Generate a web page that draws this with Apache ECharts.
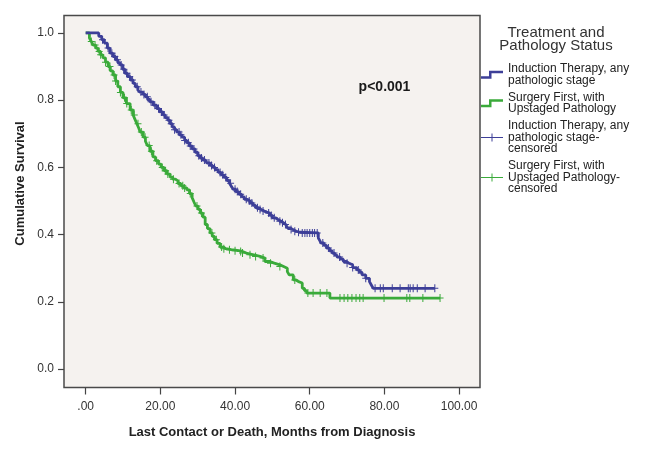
<!DOCTYPE html>
<html>
<head>
<meta charset="utf-8">
<script src="https://cdn.jsdelivr.net/npm/echarts@6/dist/echarts.min.js"></script>
<style>
html,body{margin:0;padding:0;background:#fff;}
#chart{width:645px;height:455px;}
</style>
</head>
<body>
<div id="chart"></div>
<script>
// ---- data ----
const seriesNames = [
  'Induction Therapy, any\npathologic stage',
  'Surgery First, with\nUpstaged Pathology',
  'Induction Therapy, any\npathologic stage-\ncensored',
  'Surgery First, with\nUpstaged Pathology-\ncensored'
];
const legendTitle = 'Treatment and\nPathology Status';
const pText = 'p<0.001';

// Induction therapy: event times (months) and survival after each event
const blueTimes = [0,3.5,4.3,5,5.8,6.5,7.3,8,8.6,9.2,9.9,10.5,11.2,12,12.7,13.3,14,14.5,15.3,16,16.6,17.2,18.1,19,19.8,20.7,21.3,22,22.6,23.2,23.8,24.4,25.1,25.8,26.5,27.1,27.8,28.5,29.3,30,30.7,31.3,32,32.5,33.3,34,34.7,35.5,36.3,37,37.8,38.5,39,39.5,40.2,41,41.8,42.5,43.3,44,44.8,45.5,46.3,47,47.8,48.5,49.3,50,50.8,51.5,52.3,53,53.6,54,54.8,55.5,56.4,57.4,62.3,62.7,63,63.8,64.5,65.3,66,66.7,67.3,68.2,69,69.8,70.5,71.5,72.6,73.3,74,75,76,76.5,77];
const blueSurv  = [1.0,0.99,0.98,0.97,0.955,0.94,0.93,0.92,0.912,0.905,0.892,0.88,0.87,0.86,0.85,0.84,0.83,0.824,0.817,0.81,0.802,0.795,0.785,0.775,0.765,0.756,0.748,0.74,0.73,0.72,0.712,0.705,0.697,0.69,0.68,0.673,0.664,0.655,0.645,0.635,0.628,0.622,0.617,0.613,0.606,0.6,0.593,0.585,0.578,0.57,0.561,0.553,0.544,0.535,0.528,0.52,0.512,0.505,0.5,0.494,0.487,0.48,0.475,0.47,0.467,0.464,0.457,0.45,0.445,0.44,0.435,0.43,0.425,0.42,0.415,0.41,0.407,0.405,0.39,0.382,0.375,0.368,0.36,0.352,0.345,0.339,0.333,0.327,0.32,0.315,0.31,0.302,0.295,0.288,0.28,0.27,0.26,0.25,0.24];
const blueCensor = [4.5,6,7,7.8,8.5,9.5,10.2,11,11.8,12.5,13.8,14.8,15.6,16.5,17.5,18.5,19.5,20.3,21,22.3,22.9,23.8,25,25.5,26.5,27.5,28,29,30.3,31,31.8,33,33.7,34.5,36,36.7,37.5,38.8,40,40.6,41.5,43,43.8,44.5,46,46.7,47.5,49,49.7,50.5,52,52.7,53.5,55,56,57,58,58.7,59.3,60,60.7,61.3,62,63.5,65,66.5,68,70,71.5,73,75,77.5,78.9,79.7,82.1,84.2,86.4,86.9,87.7,88.8,90.9,93.5];

// Surgery first: event times and survival
const greenTimes = [0,1,1.5,2,2.7,3.3,4,4.6,5.3,6,6.6,7.3,8,8.6,9.3,10,10.9,11.9,12.7,13.2,13.7,14.2,14.6,15.4,16,16.5,17.2,18,18.7,19.5,20.2,21,21.8,22.6,23.3,24,24.7,25.5,26.3,27.1,27.8,28.5,29,29.5,30.1,30.7,31.4,32,32.6,33.3,33.9,34.5,35.2,36,36.8,37.5,39,41,42,43,45,46.7,48,49.3,50.5,52,53,54,54.5,55.6,56.3,57,58,58.6,59.2,65.4];
const greenSurv  = [1.0,0.985,0.975,0.964,0.955,0.945,0.935,0.926,0.913,0.9,0.887,0.875,0.857,0.84,0.823,0.807,0.79,0.771,0.756,0.743,0.73,0.717,0.705,0.69,0.678,0.665,0.648,0.631,0.62,0.61,0.6,0.59,0.58,0.571,0.565,0.56,0.552,0.545,0.539,0.533,0.522,0.51,0.497,0.485,0.475,0.464,0.452,0.43,0.418,0.405,0.395,0.385,0.374,0.363,0.358,0.355,0.352,0.35,0.345,0.34,0.335,0.33,0.32,0.315,0.31,0.305,0.3,0.29,0.28,0.265,0.26,0.256,0.24,0.233,0.226,0.211];
const greenCensor = [1.5,2.5,3.6,4,5.3,6.3,6.5,7.6,8,9.3,10.4,11,12.2,13,14,14.9,15.9,17,17.6,19,20.5,21.4,22,23.5,25,26,26.5,28,29.8,31,33.8,35,36.4,37,38.5,40,41.5,42,44,45.5,47.5,49.5,52,56,59.5,60.9,62.8,64.6,68.1,69.2,70.2,71.3,72.4,73.4,74.3,79.9,86,86.8,90.3,94.9];

const xTicks = [0,20,40,60,80,100];
const xTickLabels = ['.00','20.00','40.00','60.00','80.00','100.00'];
const yTicks = [0,0.2,0.4,0.6,0.8,1.0];
const yTickLabels = ['0.0','0.2','0.4','0.6','0.8','1.0'];

// ---- build ----
const BLUE = '#3d3f98';
const GREEN = '#3aaa3a';

function stepAt(times, surv, t){
  let s = surv[0];
  for (let i=0;i<times.length;i++){ if (times[i] <= t) s = surv[i]; }
  return s;
}
function curve(times, surv, censor){
  const pts = times.map((t,i)=>[t, surv[i]]);
  const last = Math.max(...censor);
  if (last > times[times.length-1]) pts.push([last, surv[surv.length-1]]);
  return pts;
}
function marks(times, surv, censor){
  return censor.map(t => [t, stepAt(times, surv, t)]);
}

const plusSym = 'path://M3,0h1v8h-1zM0,3.5h7v1h-7z';
const stepIcon = 'path://M0,5.5h8v-5.5h14v2.5h-11.5v5.5h-10.5z';
const plusIcon = 'path://M0,3.5h22v1h-22zM10.5,0h1v8h-1z';

const chart = echarts.init(document.getElementById('chart'), null, {renderer:'canvas'});
const font = 'Liberation Sans, Arial, sans-serif';

chart.setOption({
  animation:false,
  backgroundColor:'#ffffff',
  textStyle:{fontFamily:font},
  grid:{left:64, top:15.5, width:416, height:372, show:true,
        backgroundColor:'#f5f2ef', borderColor:'#4a4a4a', borderWidth:1.5},
  xAxis:{
    type:'value', min:-5.81, max:105.6,
    name:'Last Contact or Death, Months from Diagnosis',
    nameLocation:'middle', nameGap:38,
    nameTextStyle:{fontSize:13, fontWeight:'bold', color:'#222', fontFamily:font},
    axisLine:{show:false, onZero:false},
    splitLine:{show:false},
    axisTick:{show:true, length:7, customValues:xTicks, lineStyle:{color:'#444', width:1.2}},
    axisLabel:{customValues:xTicks, margin:13, fontSize:12, color:'#333', fontFamily:font,
      formatter:(v)=>{const i=xTicks.indexOf(v); return i>=0?xTickLabels[i]:'';}}
  },
  yAxis:{
    type:'value', min:-0.055, max:1.052,
    axisLine:{show:false, onZero:false},
    splitLine:{show:false},
    axisTick:{show:true, length:6, customValues:yTicks, lineStyle:{color:'#444', width:1.2}},
    axisLabel:{customValues:yTicks, margin:10, fontSize:12, color:'#333', fontFamily:font,
      formatter:(v)=>{const i=yTicks.findIndex(t=>Math.abs(t-v)<1e-6); return i>=0?yTickLabels[i]:'';}}
  },
  legend:{
    orient:'vertical', left:481, top:63, padding:0, itemGap:5,
    itemWidth:22, itemHeight:8, selectedMode:false,
    textStyle:{fontSize:12, lineHeight:11.5, color:'#222', fontFamily:font},
    data:[
      {name:seriesNames[0], icon:stepIcon},
      {name:seriesNames[1], icon:stepIcon},
      {name:seriesNames[2], icon:plusIcon},
      {name:seriesNames[3], icon:plusIcon}
    ]
  },
  graphic:[
    {type:'text', x:556, y:39.5, style:{text:legendTitle, fontSize:15, lineHeight:13,
      fill:'#333', align:'center', verticalAlign:'middle', fontFamily:font}},
    {type:'text', x:384.5, y:87, style:{text:pText, fontSize:14, fontWeight:'bold',
      fill:'#1a1a1a', align:'center', verticalAlign:'middle', fontFamily:font}},
    {type:'text', x:20, y:183.5, rotation:Math.PI/2, style:{text:'Cumulative Survival', fontSize:13,
      fontWeight:'bold', fill:'#222', align:'center', verticalAlign:'middle', fontFamily:font}}
  ],
  series:[
    {name:seriesNames[0], type:'line', step:'end', symbol:'none', color:BLUE,
      itemStyle:{color:BLUE}, lineStyle:{color:BLUE, width:2.8}, z:3,
      data:curve(blueTimes, blueSurv, blueCensor)},
    {name:seriesNames[1], type:'line', step:'end', symbol:'none', color:GREEN,
      itemStyle:{color:GREEN}, lineStyle:{color:GREEN, width:2.8}, z:2,
      data:curve(greenTimes, greenSurv, greenCensor)},
    {name:seriesNames[2], type:'scatter', symbol:plusSym, symbolSize:[7,8], color:BLUE,
      itemStyle:{color:BLUE, opacity:1}, z:4,
      data:marks(blueTimes, blueSurv, blueCensor)},
    {name:seriesNames[3], type:'scatter', symbol:plusSym, symbolSize:[7,8], color:GREEN,
      itemStyle:{color:GREEN, opacity:1}, z:4,
      data:marks(greenTimes, greenSurv, greenCensor)}
  ]
});
</script>
</body>
</html>
